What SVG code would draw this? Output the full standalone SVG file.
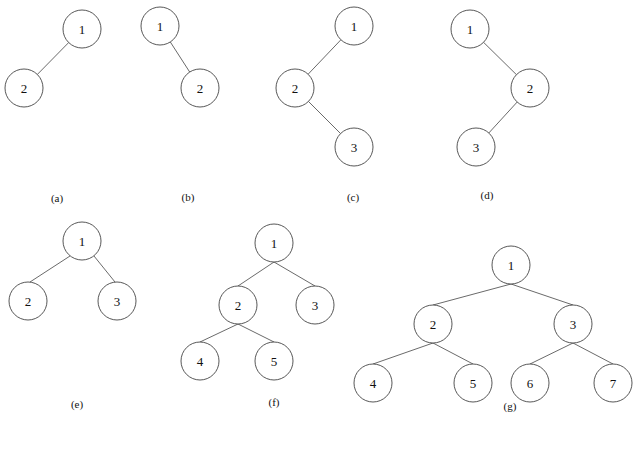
<svg xmlns="http://www.w3.org/2000/svg" width="640" height="459" viewBox="0 0 640 459">
<style>
.e{stroke:#444;stroke-width:0.8}
circle{fill:#fff;stroke:#444;stroke-width:0.9}
text{font-family:"Liberation Serif",serif;font-size:13px;text-anchor:middle;dominant-baseline:central;fill:#111}
.l{font-size:11px}
</style>
<rect width="640" height="459" fill="#fff"/>
<g id="connectors">
<line class="e" x1="82" y1="29" x2="24" y2="88"/>
<line class="e" x1="160" y1="26" x2="200" y2="88"/>
<line class="e" x1="354" y1="26" x2="295" y2="88"/>
<line class="e" x1="295" y1="88" x2="354" y2="147"/>
<line class="e" x1="470" y1="29" x2="530" y2="88"/>
<line class="e" x1="530" y1="88" x2="476" y2="147"/>
<line class="e" x1="70" y1="256" x2="30" y2="282"/>
<line class="e" x1="94" y1="256" x2="115" y2="282"/>
<line class="e" x1="274" y1="262" x2="238" y2="286"/>
<line class="e" x1="274" y1="262" x2="315" y2="286"/>
<line class="e" x1="238" y1="324" x2="200" y2="342"/>
<line class="e" x1="238" y1="324" x2="274" y2="342"/>
<line class="e" x1="511" y1="284" x2="433" y2="305"/>
<line class="e" x1="511" y1="284" x2="573" y2="305"/>
<line class="e" x1="433" y1="343" x2="373" y2="364"/>
<line class="e" x1="433" y1="343" x2="473" y2="364"/>
<line class="e" x1="573" y1="343" x2="530" y2="364"/>
<line class="e" x1="573" y1="343" x2="613" y2="364"/>
</g>
<g id="a1"><circle cx="82" cy="29" r="19"/><text x="82" y="29">1</text></g>
<g id="a2"><circle cx="24" cy="88" r="19"/><text x="24" y="88">2</text></g>
<g id="b1"><circle cx="160" cy="26" r="19"/><text x="160" y="26">1</text></g>
<g id="b2"><circle cx="200" cy="88" r="19"/><text x="200" y="88">2</text></g>
<g id="c1"><circle cx="354" cy="26" r="19"/><text x="354" y="26">1</text></g>
<g id="c2"><circle cx="295" cy="88" r="19"/><text x="295" y="88">2</text></g>
<g id="c3"><circle cx="354" cy="147" r="19"/><text x="354" y="147">3</text></g>
<g id="d1"><circle cx="470" cy="29" r="19"/><text x="470" y="29">1</text></g>
<g id="d2"><circle cx="530" cy="88" r="19"/><text x="530" y="88">2</text></g>
<g id="d3"><circle cx="476" cy="147" r="19"/><text x="476" y="147">3</text></g>
<g id="e1"><circle cx="82" cy="241" r="19"/><text x="82" y="241">1</text></g>
<g id="e2"><circle cx="28" cy="301" r="19"/><text x="28" y="301">2</text></g>
<g id="e3"><circle cx="117" cy="301" r="19"/><text x="117" y="301">3</text></g>
<g id="f1"><circle cx="274" cy="243" r="19"/><text x="274" y="243">1</text></g>
<g id="f2"><circle cx="238" cy="305" r="19"/><text x="238" y="305">2</text></g>
<g id="f3"><circle cx="315" cy="305" r="19"/><text x="315" y="305">3</text></g>
<g id="f4"><circle cx="200" cy="361" r="19"/><text x="200" y="361">4</text></g>
<g id="f5"><circle cx="274" cy="361" r="19"/><text x="274" y="361">5</text></g>
<g id="g1"><circle cx="511" cy="265" r="19"/><text x="511" y="265">1</text></g>
<g id="g2"><circle cx="433" cy="324" r="19"/><text x="433" y="324">2</text></g>
<g id="g3"><circle cx="573" cy="324" r="19"/><text x="573" y="324">3</text></g>
<g id="g4"><circle cx="373" cy="383" r="19"/><text x="373" y="383">4</text></g>
<g id="g5"><circle cx="473" cy="383" r="19"/><text x="473" y="383">5</text></g>
<g id="g6"><circle cx="530" cy="383" r="19"/><text x="530" y="383">6</text></g>
<g id="g7"><circle cx="613" cy="383" r="19"/><text x="613" y="383">7</text></g>
<g id="labels">
<text class="l" x="57" y="198">(a)</text>
<text class="l" x="188" y="197">(b)</text>
<text class="l" x="353" y="197">(c)</text>
<text class="l" x="487" y="195">(d)</text>
<text class="l" x="77" y="404">(e)</text>
<text class="l" x="274" y="402">(f)</text>
<text class="l" x="510" y="406">(g)</text>
</g>
</svg>
